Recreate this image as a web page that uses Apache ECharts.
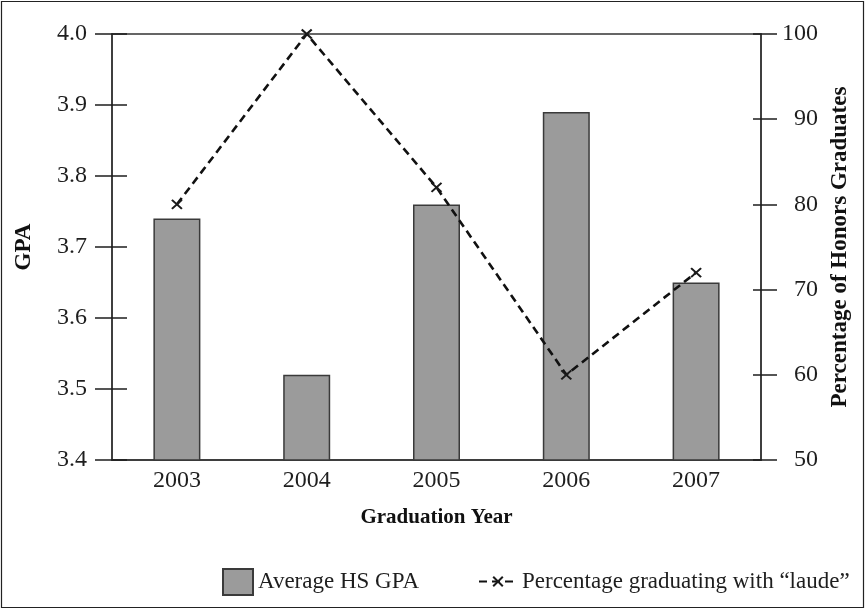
<!DOCTYPE html>
<html>
<head>
<meta charset="utf-8">
<script src="https://cdn.jsdelivr.net/npm/echarts@6/dist/echarts.min.js"></script>
<style>
  html, body { margin: 0; padding: 0; background: #fff; }
  #chart { width: 866px; height: 610px; }
</style>
</head>
<body>
<div id="chart"></div>
<script>
// data
const years = ['2003', '2004', '2005', '2006', '2007'];
const avgGpa = [3.74, 3.52, 3.76, 3.89, 3.65];
const laudePct = [80, 100, 82, 60, 72];

const gpaMin = 3.4, gpaMax = 4.0, gpaStep = 0.1;
const pctMin = 50, pctMax = 100, pctStep = 10;

const serif = 'Liberation Serif';
const ink = '#1e1e1e';

const chart = echarts.init(document.getElementById('chart'), null, { renderer: 'canvas' });

// a bare copy of a y axis that only draws the inner half of the ticks
const innerTicks = (position, min, max, interval, len) => ({
  type: 'value',
  position,
  min, max, interval,
  axisLine: { show: false },
  axisLabel: { show: false },
  splitLine: { show: false },
  axisTick: { show: true, inside: true, length: len, lineStyle: { color: ink, width: 1.5 } },
});

chart.setOption({
  animation: false,
  textStyle: { fontFamily: serif, color: ink },
  grid: {
    left: 112, right: 105, top: 34, bottom: 150,
    show: true, borderColor: '#333', borderWidth: 1.5,
  },
  legend: [
    {
      data: ['Average HS GPA'],
      left: 222, top: 568, padding: 0,
      icon: 'rect',
      itemWidth: 30, itemHeight: 26, itemGap: 0,
      textStyle: { fontFamily: serif, fontSize: 23, color: ink },
    },
    {
      data: ['Percentage graduating with \u201claude\u201d'],
      left: 478, top: 570, padding: 0,
      itemWidth: 38, itemHeight: 12,
      textStyle: { fontFamily: serif, fontSize: 23, color: ink },
    },
  ],
  xAxis: {
    type: 'category',
    data: years,
    name: 'Graduation Year',
    nameLocation: 'middle',
    nameGap: 47,
    nameTextStyle: { fontFamily: serif, fontSize: 21, fontWeight: 'bold', color: '#111' },
    axisLine: { lineStyle: { color: '#333', width: 1.5 } },
    axisTick: { show: false },
    axisLabel: { fontFamily: serif, fontSize: 24, color: ink, margin: 9 },
  },
  yAxis: [
    {
      type: 'value',
      position: 'left',
      min: gpaMin, max: gpaMax, interval: gpaStep,
      name: 'GPA',
      nameLocation: 'middle',
      nameGap: 76,
      nameTextStyle: { fontFamily: serif, fontSize: 23, fontWeight: 'bold', color: '#111' },
      axisLine: { show: true, lineStyle: { color: '#333', width: 1.5 } },
      axisTick: { show: true, length: 17, lineStyle: { color: ink, width: 1.5 } },
      axisLabel: { fontFamily: serif, fontSize: 24, color: ink, margin: 25, formatter: (v) => v.toFixed(1) },
      splitLine: { show: false },
    },
    {
      type: 'value',
      position: 'right',
      min: pctMin, max: pctMax, interval: pctStep,
      name: 'Percentage of Honors Graduates',
      nameLocation: 'middle',
      nameGap: 65,
      nameTextStyle: { fontFamily: serif, fontSize: 23, fontWeight: 'bold', color: '#111' },
      axisLine: { show: true, lineStyle: { color: '#333', width: 1.5 } },
      axisTick: { show: true, length: 16, lineStyle: { color: ink, width: 1.5 } },
      axisLabel: { fontFamily: serif, fontSize: 24, color: ink, margin: 57, align: 'right' },
      splitLine: { show: false },
    },
    innerTicks('left', gpaMin, gpaMax, gpaStep, 15),
    innerTicks('right', pctMin, pctMax, pctStep, 8),
  ],
  series: [
    {
      name: 'Average HS GPA',
      type: 'bar',
      yAxisIndex: 0,
      data: avgGpa,
      barWidth: 47,
      itemStyle: { color: '#9b9b9b', borderColor: '#3a3a3a', borderWidth: 1.5 },
      z: 2,
    },
    {
      name: 'Percentage graduating with \u201claude\u201d',
      type: 'line',
      yAxisIndex: 1,
      data: laudePct,
      symbol: 'path://M0 0L10 9M10 0L0 9',
      symbolSize: [10, 9],
      itemStyle: { color: '#1a1a1a', borderColor: '#1a1a1a', borderWidth: 2 },
      lineStyle: { color: '#111', width: 2.6, type: [8, 5] },
      z: 3,
    },
  ],
  graphic: [
    {
      type: 'rect',
      shape: { x: 1.5, y: 1.5, width: 862, height: 606 },
      style: { fill: 'none', stroke: '#222', lineWidth: 1.2 },
      silent: true,
    },
  ],
});
</script>
</body>
</html>
